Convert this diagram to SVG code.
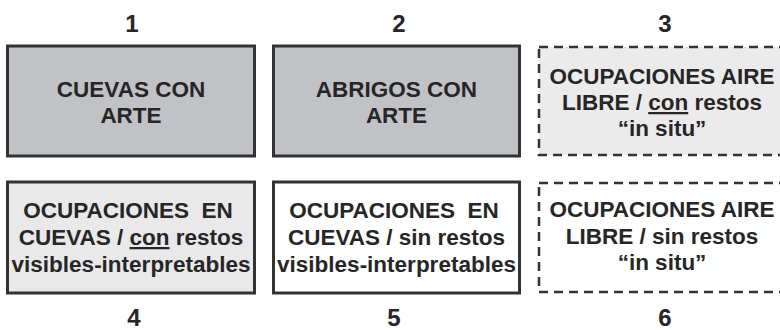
<svg xmlns="http://www.w3.org/2000/svg" width="780" height="330" viewBox="0 0 780 330">
<style>
.box{stroke:#333;stroke-width:3}
.dash{stroke:#333;stroke-width:2.5;stroke-dasharray:9 6}
.t{font-family:"Liberation Sans",Arial,sans-serif;font-weight:bold;font-size:22.5px;fill:#262626;text-anchor:middle;white-space:pre}
.n{font-family:"Liberation Sans",Arial,sans-serif;font-weight:bold;font-size:24px;fill:#262626;text-anchor:middle}
.u{text-decoration:underline}
</style>
<rect width="780" height="330" fill="#ffffff"/>
<g id="labels">
<text class="n" x="132" y="32">1</text>
<text class="n" x="399" y="32">2</text>
<text class="n" x="665" y="32">3</text>
<text class="n" x="134" y="326">4</text>
<text class="n" x="394" y="326">5</text>
<text class="n" x="665" y="326">6</text>
</g>
<g id="node1">
<rect class="box" x="7.5" y="46" width="247" height="110" fill="#c1c2c6"/>
<text class="t" x="131" y="97">CUEVAS CON</text>
<text class="t" x="131" y="123">ARTE</text>
</g>
<g id="node2">
<rect class="box" x="273.5" y="46" width="246" height="110" fill="#c1c2c6"/>
<text class="t" x="396.5" y="97">ABRIGOS CON</text>
<text class="t" x="396.5" y="123">ARTE</text>
</g>
<g id="node3">
<rect class="dash" x="539" y="47" width="250" height="108" fill="#ebebec"/>
<text class="t" x="662" y="84">OCUPACIONES AIRE</text>
<text class="t" x="662" y="110">LIBRE / <tspan class="u">con</tspan> restos</text>
<text class="t" x="662" y="136">“in situ”</text>
</g>
<g id="node4">
<rect class="box" x="7.5" y="182" width="247" height="111" fill="#e9e9ea"/>
<text class="t" x="128" y="218">OCUPACIONES  EN</text>
<text class="t" x="131" y="245">CUEVAS / <tspan class="u">con</tspan> restos</text>
<text class="t" x="131" y="272">visibles-interpretables</text>
</g>
<g id="node5">
<rect class="box" x="273.5" y="182" width="246" height="111" fill="#ffffff"/>
<text class="t" x="394" y="218">OCUPACIONES  EN</text>
<text class="t" x="396.5" y="245">CUEVAS / sin restos</text>
<text class="t" x="396.5" y="272">visibles-interpretables</text>
</g>
<g id="node6">
<rect class="dash" x="539" y="183" width="250" height="109" fill="#ffffff"/>
<text class="t" x="662" y="217">OCUPACIONES AIRE</text>
<text class="t" x="662" y="244">LIBRE / sin restos</text>
<text class="t" x="662" y="270">“in situ”</text>
</g>
<g id="connectors"></g>
</svg>
